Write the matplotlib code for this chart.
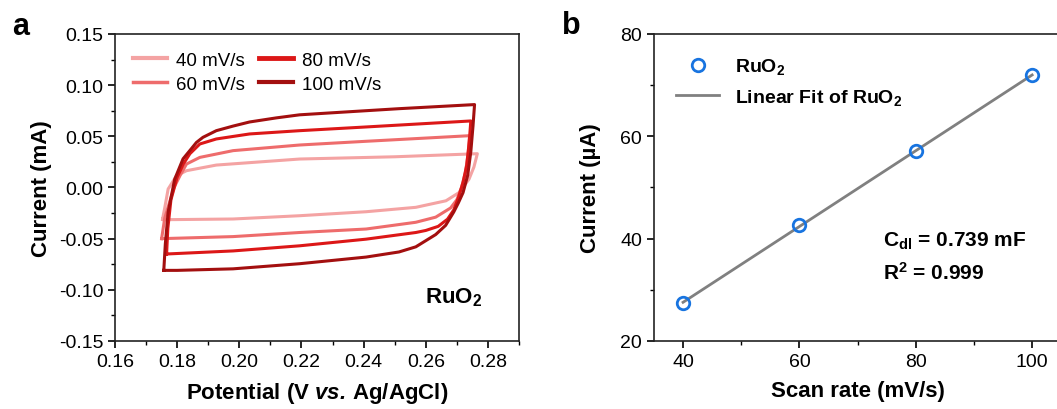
import matplotlib
matplotlib.use("Agg")
import matplotlib.pyplot as plt
from matplotlib.ticker import MultipleLocator
import numpy as np

plt.rcParams['font.family'] = ['Liberation Sans', 'DejaVu Sans']
plt.rcParams['mathtext.fontset'] = 'custom'
plt.rcParams['mathtext.rm'] = 'Liberation Sans'
plt.rcParams['mathtext.bf'] = 'Liberation Sans:bold'
plt.rcParams['mathtext.it'] = 'Liberation Sans:italic'
plt.rcParams['mathtext.bfit'] = 'Liberation Sans:italic:bold'

# --- panel a: CV loops (potential V, current mA) ---
scan_labels = ['40 mV/s', '60 mV/s', '80 mV/s', '100 mV/s']
cv_colors = ['#f4a3a3', '#ee6c6c', '#dc1717', '#a30f0f']

E_40 = [0.1753, 0.1760, 0.1771, 0.1798, 0.1830, 0.1926, 0.2194, 0.2500, 0.2766,
        0.2766, 0.2755, 0.2739, 0.2707, 0.2665, 0.2568, 0.2408, 0.2194, 0.1980, 0.1753, 0.1753]
I_40 = [-0.031, -0.020, -0.0015, 0.0115, 0.0164, 0.0219, 0.0278, 0.030, 0.033,
        0.033, 0.020, 0.008, -0.005, -0.013, -0.0194, -0.0237, -0.0276, -0.0308, -0.0315, -0.031]

E_60 = [0.1750, 0.1760, 0.1776, 0.1790, 0.1809, 0.1830, 0.1873, 0.1980, 0.2194, 0.2400, 0.2741,
        0.2741, 0.2737, 0.2728, 0.2715, 0.2700, 0.2680, 0.2632, 0.2568, 0.2408, 0.2194, 0.1980, 0.1750]
I_60 = [-0.050, -0.030, -0.014, 0.000, 0.0115, 0.0229, 0.0294, 0.0360, 0.0415, 0.045, 0.0506,
        0.0506, 0.035, 0.015, 0.000, -0.012, -0.020, -0.029, -0.034, -0.0406, -0.044, -0.048, -0.050]

E_80 = [0.1766, 0.1770, 0.1780, 0.1800, 0.1820, 0.1841, 0.1873, 0.1926, 0.2033, 0.2194, 0.2400, 0.2745,
        0.2745, 0.2740, 0.2732, 0.2720, 0.2705, 0.2690, 0.2670, 0.2640, 0.2600, 0.2568, 0.2408, 0.2194,
        0.1980, 0.1766]
I_80 = [-0.065, -0.040, -0.012, 0.010, 0.023, 0.033, 0.0425, 0.0474, 0.0523, 0.0555, 0.059, 0.065,
        0.065, 0.045, 0.022, 0.005, -0.010, -0.022, -0.031, -0.038, -0.042, -0.044, -0.0505, -0.057,
        -0.062, -0.065]

E_100 = [0.1757, 0.1762, 0.1771, 0.1792, 0.1819, 0.1846, 0.1862, 0.1883, 0.1926, 0.1980, 0.2033, 0.2119,
         0.2194, 0.2300, 0.2514, 0.2757,
         0.2757, 0.2752, 0.2745, 0.2735, 0.2720, 0.2705, 0.2690, 0.2664, 0.2632, 0.2568, 0.2514, 0.2408,
         0.2194, 0.1980, 0.1800, 0.1757]
I_100 = [-0.081, -0.055, -0.024, 0.008, 0.028, 0.038, 0.044, 0.049, 0.0555, 0.060, 0.064, 0.068,
         0.071, 0.073, 0.077, 0.081,
         0.081, 0.060, 0.035, 0.012, -0.005, -0.015, -0.024, -0.037, -0.046, -0.058, -0.063, -0.068,
         -0.0745, -0.0795, -0.081, -0.081]

cv_E = [E_40, E_60, E_80, E_100]
cv_I = [I_40, I_60, I_80, I_100]

# --- panel b: current vs scan rate ---
scan_rate = [40, 60, 80, 100]
current_uA = [27.4, 42.6, 57.2, 71.9]

fig = plt.figure(figsize=(10.57, 4.10), dpi=100)
ax1 = fig.add_axes([0.1088, 0.1659, 0.3822, 0.7488])
ax2 = fig.add_axes([0.6187, 0.1659, 0.3853, 0.7488])

for E, I, c, lab in zip(cv_E, cv_I, cv_colors, scan_labels):
    ax1.plot(E, I, color=c, lw=2.2, label=lab, solid_joinstyle='round')

ax1.set_xlim(0.16, 0.29)
ax1.set_ylim(-0.15, 0.15)
ax1.set_xticks(np.arange(0.16, 0.281, 0.02))
ax1.set_yticks(np.arange(-0.15, 0.151, 0.05))
ax1.xaxis.set_minor_locator(MultipleLocator(0.01))
ax1.yaxis.set_minor_locator(MultipleLocator(0.025))
ax1.xaxis.set_major_formatter(plt.FuncFormatter(lambda v, p: f'{v:.2f}'))
ax1.yaxis.set_major_formatter(plt.FuncFormatter(lambda v, p: f'{v:.2f}'))
ax1.set_xlabel(r'Potential (V $\mathbfit{vs.}\,$Ag/AgCl)', fontsize=16, fontweight='bold', labelpad=7)
ax1.set_ylabel('Current (mA)', fontsize=16, fontweight='bold', labelpad=5)
ax1.text(0.269, -0.107, r'RuO$_\mathbf{2}$', fontsize=16, fontweight='bold', ha='center', va='center')
leg = ax1.legend(ncol=2, loc='upper left', frameon=False, fontsize=13.5, handlelength=1.8,
                 columnspacing=0.75, labelspacing=0.35, borderaxespad=0.55, handletextpad=0.5)
for ln, w in zip(leg.get_lines(), [3, 2.5, 3.5, 3]):
    ln.set_linewidth(w)
ax1.text(-0.255, 1.026, 'a', transform=ax1.transAxes, fontsize=22, fontweight='bold', va='center')

# linear fit
slope, intercept = np.polyfit(scan_rate, current_uA, 1)
fit_x = np.array([scan_rate[0], scan_rate[-1]])
ax2.plot(fit_x, slope * fit_x + intercept, color='#808080', lw=2, label=r'Linear Fit of RuO$_\mathbf{2}$', zorder=2)
ax2.plot(scan_rate, current_uA, 'o', mfc='none', mec='#1874e0', mew=2, ms=9, label=r'RuO$_\mathbf{2}$', zorder=3)

ax2.set_xlim(35, 105)
ax2.set_ylim(20, 80)
ax2.set_xticks([40, 60, 80, 100])
ax2.set_yticks([20, 40, 60, 80])
ax2.xaxis.set_minor_locator(MultipleLocator(10))
ax2.yaxis.set_minor_locator(MultipleLocator(10))
ax2.set_xlabel('Scan rate (mV/s)', fontsize=16, fontweight='bold', labelpad=7)
ax2.set_ylabel('Current (µA)', fontsize=16, fontweight='bold', labelpad=14)
h, l = ax2.get_legend_handles_labels()
ax2.legend(h[::-1], l[::-1], loc='upper left', frameon=False, handlelength=2.2,
           labelspacing=0.55, borderaxespad=0.75, prop={'weight': 'bold', 'size': 14})
ax2.text(74.3, 39.7, r'C$_\mathbf{dl}$ = 0.739 mF', fontsize=15, fontweight='bold', va='center')
ax2.text(74.3, 33.5, r'R$^\mathbf{2}$ = 0.999', fontsize=15, fontweight='bold', va='center')
ax2.text(-0.225, 1.03, 'b', transform=ax2.transAxes, fontsize=22, fontweight='bold', va='center')

for ax in (ax1, ax2):
    ax.tick_params(which='major', direction='out', length=5, width=1.2, labelsize=14, top=False, right=False)
    ax.tick_params(which='minor', direction='out', length=3, width=1.0, top=False, right=False)
    for sp in ax.spines.values():
        sp.set_linewidth(1.2)
        sp.set_color('#222222')

fig.savefig('out.png', dpi=100)
